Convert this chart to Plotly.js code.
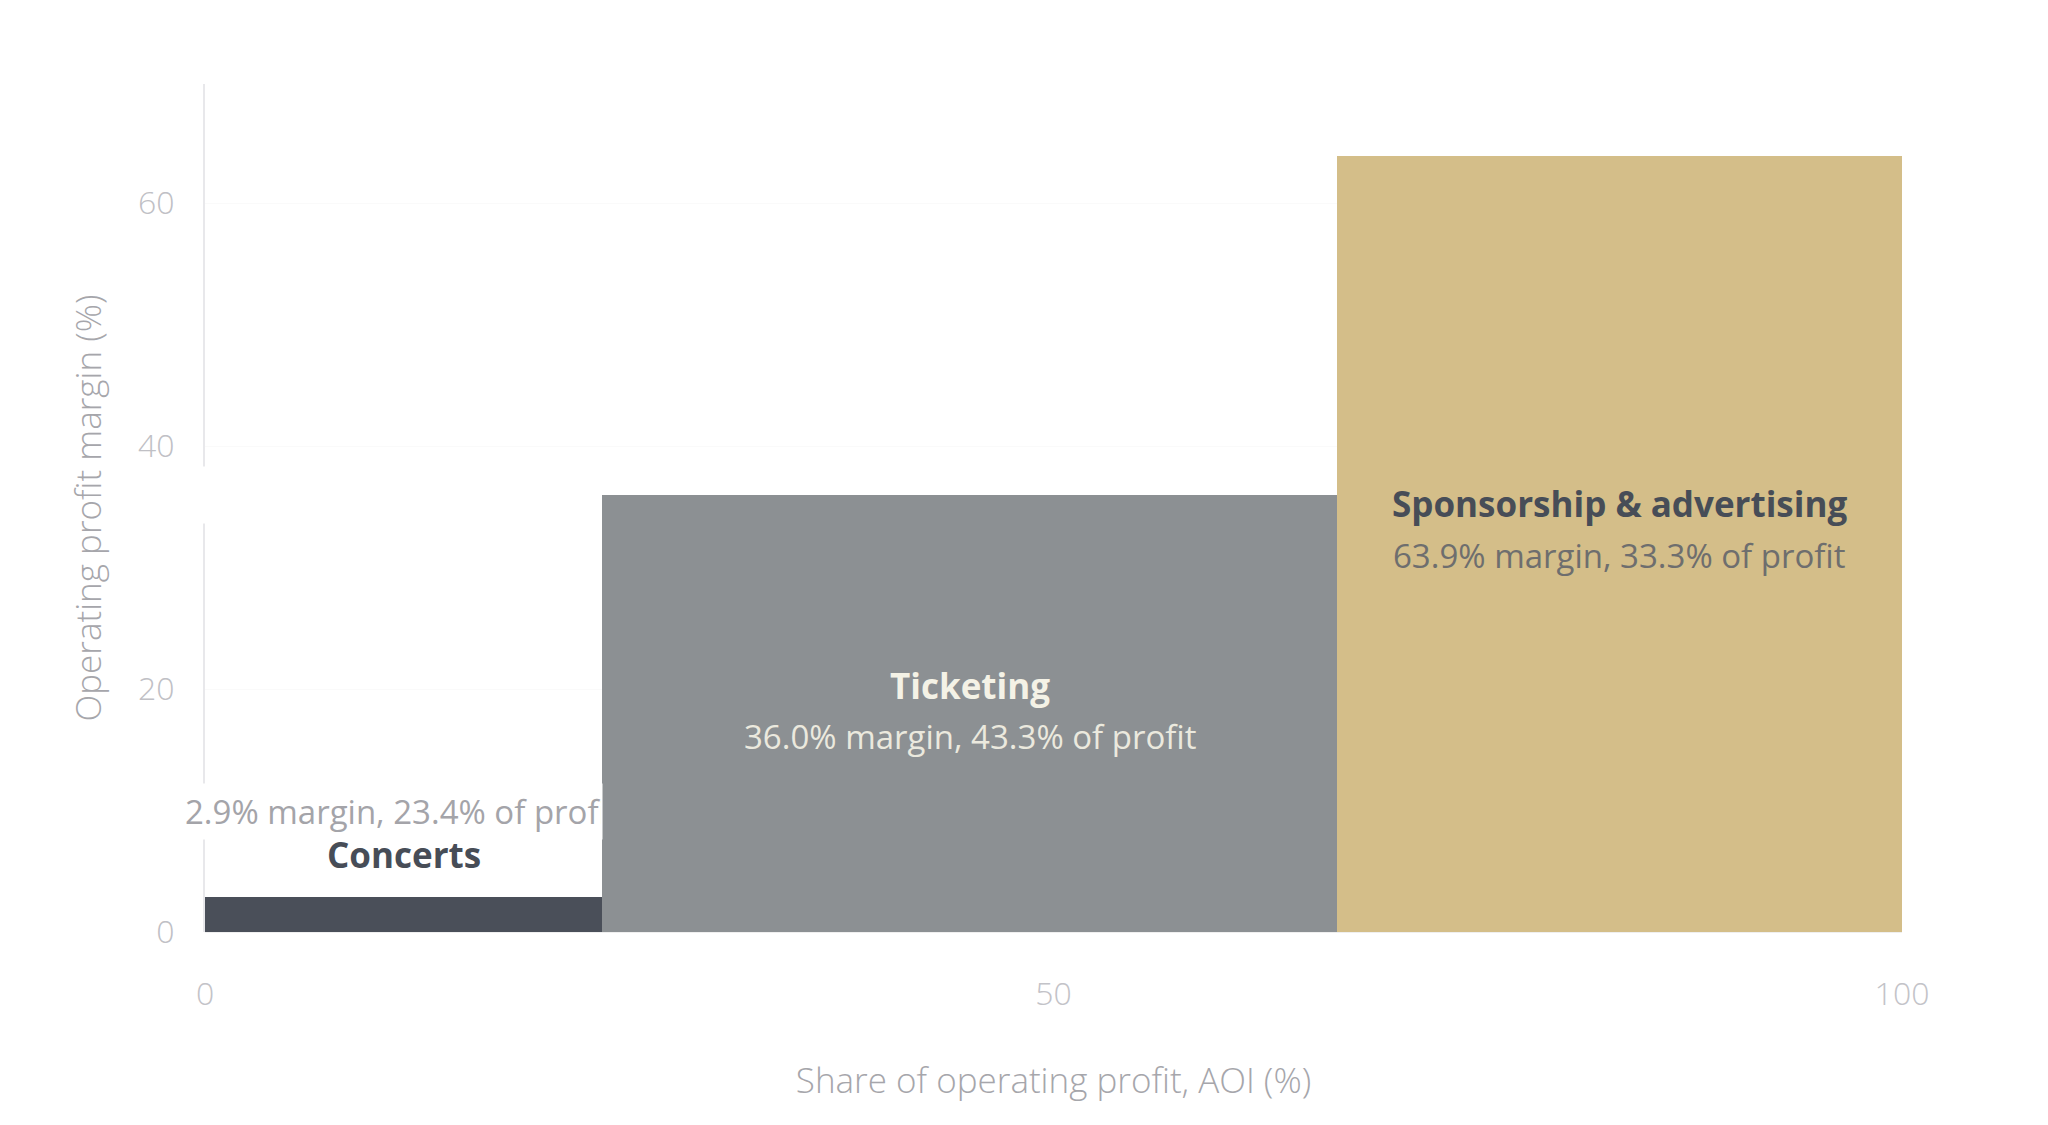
<!DOCTYPE html>
<html>
<head>
<meta charset="utf-8">
<script src="https://cdn.plot.ly/plotly-3.0.1.min.js"></script>
<style>
  html, body { margin: 0; padding: 0; background: #fff; }
  #chart { width: 2048px; height: 1125px; }
</style>
</head>
<body>
<div id="chart"></div>
<script>
const segments = ["Concerts", "Ticketing", "Sponsorship & advertising"];
const marginPct = [2.9, 36.0, 63.9];
const profitShare = [23.4, 43.3, 33.3];
const barColors = ["#4a4f59", "#8c9093", "#d4be89"];
const nameColors = ["#474d57", "#f4f2e6", "#474d57"];
const subColors = ["#a4a4a9", "#ebe9de", "#6e6e6e"];
const xTicks = [0, 50, 100];
const yTicks = [0, 20, 40, 60];

const FONT = "'Open Sans', 'Noto Sans', sans-serif";

// left edges and centres of the variable-width bars
const lefts = [];
let acc = 0;
profitShare.forEach(w => { lefts.push(acc); acc += w; });
const centres = lefts.map((l, i) => l + profitShare[i] / 2);

const subText = i =>
  `${marginPct[i].toFixed(1)}% margin, ${profitShare[i].toFixed(1)}% of profit`;

const trace = {
  type: "bar",
  x: centres,
  y: marginPct,
  width: profitShare,
  marker: { color: barColors, line: { width: 0 } },
  hoverinfo: "skip",
  showlegend: false,
};

const annotations = [];

// Concerts: label sits above the thin bar, subtitle clipped by the next bar
annotations.push({
  x: centres[0], y: marginPct[0], xref: "x", yref: "y",
  text: "<b>" + segments[0] + "</b>", showarrow: false,
  yanchor: "middle", yshift: 42,
  font: { family: FONT, size: 35, color: nameColors[0], weight: 600 },
});
annotations.push({
  x: lefts[0], y: marginPct[0], xref: "x", yref: "y",
  text: subText(0), showarrow: false,
  xanchor: "left", yanchor: "middle", xshift: -22, yshift: 85,
  width: 416, height: 53, align: "left", bgcolor: "#ffffff", borderpad: 1,
  font: { family: FONT, size: 33, color: subColors[0] },
});

// Ticketing and Sponsorship: labels inside the bars
const shifts = [null, [28, -23], [40, -12]];
[1, 2].forEach(i => {
  annotations.push({
    x: centres[i], y: marginPct[i] / 2, xref: "x", yref: "y",
    text: "<b>" + segments[i] + "</b>", showarrow: false,
    yanchor: "middle", yshift: shifts[i][0],
    font: { family: FONT, size: 35, color: nameColors[i], weight: 600 },
  });
  annotations.push({
    x: centres[i], y: marginPct[i] / 2, xref: "x", yref: "y",
    text: subText(i), showarrow: false,
    yanchor: "middle", yshift: shifts[i][1],
    font: { family: FONT, size: 33, color: subColors[i] },
  });
});

// blank label box left on the axis at the ticketing margin level
annotations.push({
  x: 0, y: marginPct[1], xref: "x", yref: "y",
  text: " ", showarrow: false, width: 12, height: 42,
  bgcolor: "#ffffff", borderpad: 7,
  font: { family: FONT, size: 30, color: "#ffffff" },
});

const layout = {
  width: 2048,
  height: 1125,
  paper_bgcolor: "#ffffff",
  plot_bgcolor: "#ffffff",
  margin: { l: 205, r: 146, t: 84, b: 193 },
  bargap: 0,
  font: { family: FONT, color: "#a6a6ab" },
  xaxis: {
    range: [0, 100],
    tickvals: xTicks,
    showgrid: false,
    zeroline: false,
    showline: false,
    ticks: "outside",
    ticklen: 34,
    tickcolor: "rgba(0,0,0,0)",
    tickfont: { family: FONT, size: 32, color: "#c3c3c8", weight: 300 },
    title: {
      text: "Share of operating profit, AOI (%)",
      font: { family: FONT, size: 35, color: "#a6a6ab", weight: 300 },
      standoff: 55,
    },
    fixedrange: true,
  },
  yaxis: {
    range: [0, 69.8],
    tickvals: yTicks,
    showgrid: true,
    gridcolor: "#fafafa",
    gridwidth: 1,
    zeroline: true,
    zerolinecolor: "#efefef",
    zerolinewidth: 1,
    showline: true,
    linecolor: "#e8e8eb",
    linewidth: 2,
    ticks: "outside",
    ticklen: 22,
    tickcolor: "rgba(0,0,0,0)",
    tickfont: { family: FONT, size: 32, color: "#c0c0c5", weight: 300 },
    title: {
      text: "Operating profit margin (%)",
      font: { family: FONT, size: 35, color: "#a6a6ab", weight: 300 },
      standoff: 26,
    },
    fixedrange: true,
  },
  annotations: annotations,
};

Plotly.newPlot("chart", [trace], layout, { displayModeBar: false, staticPlot: true });
</script>
</body>
</html>
